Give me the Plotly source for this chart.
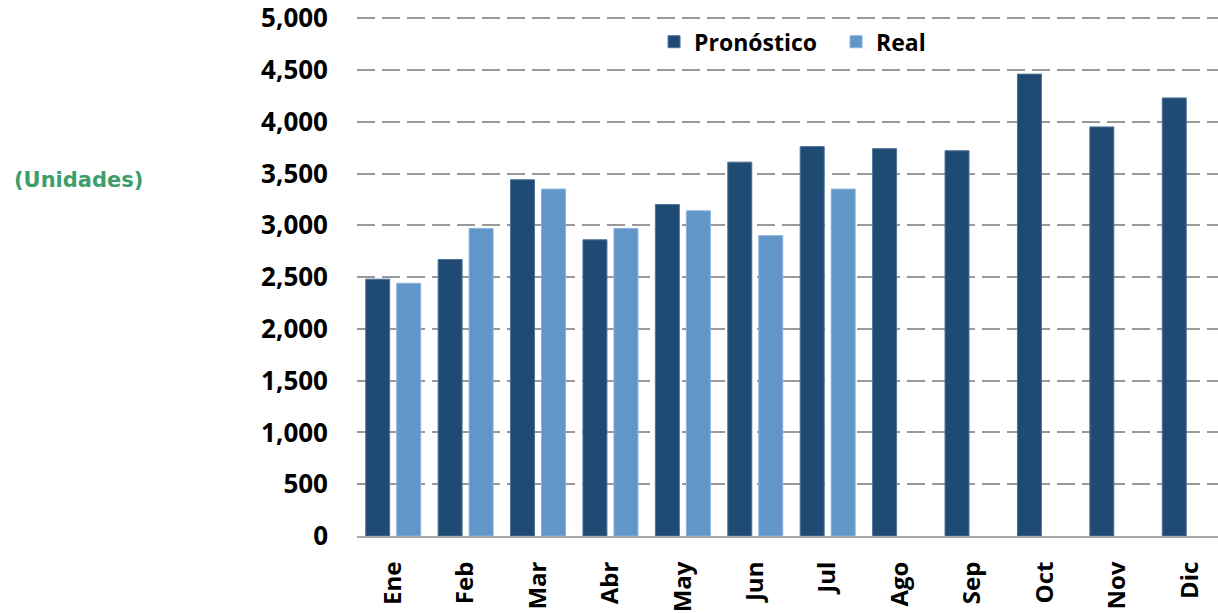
import plotly.graph_objects as go

meses = ["Ene", "Feb", "Mar", "Abr", "May", "Jun", "Jul", "Ago", "Sep", "Oct", "Nov", "Dic"]
pronostico = [2480, 2670, 3440, 2860, 3200, 3610, 3760, 3740, 3720, 4460, 3950, 4230]
real = [2440, 2970, 3350, 2970, 3140, 2900, 3350, None, None, None, None, None]
y_ticks = [0, 500, 1000, 1500, 2000, 2500, 3000, 3500, 4000, 4500, 5000]

W, H = 1218, 613
L, R, T, B = 357, 0, 13, 77
Y_TOP = 5050

fig = go.Figure()
fig.add_trace(go.Bar(
    x=meses, y=pronostico, name="Pronóstico",
    marker=dict(color="#1F4A73", line=dict(color="#4F7399", width=1)),
))
fig.add_trace(go.Bar(
    x=meses, y=real, name="Real",
    marker=dict(color="#6196C9", line=dict(color="#8DB2DC", width=1)),
))

fig.update_layout(
    width=W, height=H,
    margin=dict(l=L, r=R, t=T, b=B, pad=0),
    paper_bgcolor="white", plot_bgcolor="white",
    barmode="group", bargap=0.144, bargroupgap=0.226,
    font=dict(family="Open Sans", color="black"),
    legend=dict(
        orientation="h", x=0.345, xanchor="left", y=0.945, yanchor="middle",
        font=dict(family="Open Sans", size=23, weight="bold", color="black"),
        bgcolor="rgba(0,0,0,0)", traceorder="normal", entrywidth=137,
    ),
    xaxis=dict(
        type="category", range=[-0.5, 11.39],
        tickangle=-90, ticklabelstandoff=14,
        tickfont=dict(family="Open Sans", size=24, weight="bold", color="black"),
        showgrid=False, showline=True, linecolor="#A6A6A6", linewidth=2,
        ticks="", fixedrange=True,
    ),
    yaxis=dict(
        range=[0, Y_TOP], tickvals=y_ticks, tickformat=",d",
        tickfont=dict(family="Open Sans", size=26, weight="bold", color="black"),
        ticklabelstandoff=28, ticklabeloverflow="allow",
        showgrid=True, gridcolor="#999999", gridwidth=2, griddash="18px,7px",
        zeroline=False, showline=False, ticks="", fixedrange=True,
    ),
    annotations=[dict(
        text="(Unidades)", xref="paper", yref="paper",
        x=(12 - L) / (W - L - R), y=(536 - 180) / (H - T - B),
        xanchor="left", yanchor="middle", showarrow=False,
        font=dict(family="DejaVu Sans", size=21, weight="bold", color="#3D9E6C"),
    )],
)

fig.write_html(
    "out.html",
    config={"displayModeBar": False},
    post_script="document.body.style.margin='0';",
)
